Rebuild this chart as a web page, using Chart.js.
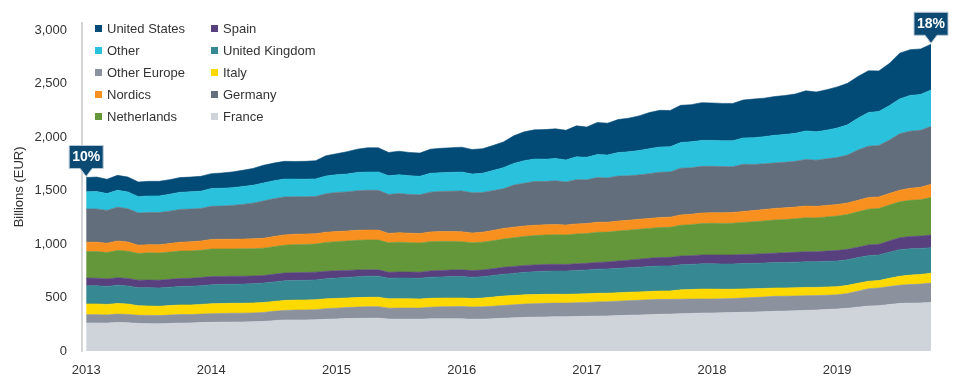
<!DOCTYPE html>
<html>
<head>
<meta charset="utf-8">
<script src="https://cdn.jsdelivr.net/npm/chart.js@4.4.1/dist/chart.umd.min.js"></script>
<style>
html,body{margin:0;padding:0;background:#fff;}
#wrap{position:relative;width:960px;height:381px;overflow:hidden;}
#legend{position:absolute;left:0;top:0;width:960px;height:0;font-family:"Liberation Sans",Arial,Helvetica,sans-serif;font-size:13px;color:#333;}
.item{position:absolute;white-space:nowrap;height:16px;line-height:16px;}
.sw{display:inline-block;width:7px;height:7px;margin-right:5px;vertical-align:middle;position:relative;top:-1px;}
</style>
</head>
<body>
<div id="wrap">
  <canvas id="c" width="960" height="381"></canvas>
  <div id="legend"></div>
</div>
<script>
// ---- categories: monthly, Jan 2013 to Oct 2019 ----
const startYear = 2013;
const monthCount = 82;
const months = [];
for (let i = 0; i < monthCount; i++) {
  months.push((startYear + Math.floor(i / 12)) + '-' + String(i % 12 + 1).padStart(2, '0'));
}
const xTickLabels = ['2013', '2014', '2015', '2016', '2017', '2018', '2019'];
const yTicks = [0, 500, 1000, 1500, 2000, 2500, 3000];
const calloutStart = '10%';
const calloutEnd = '18%';

// ---- series values (billions EUR) ----
const unitedStates = [134,136,133,140,139,137,137,136,137,138,138,139,140,143,147,152,158,165,166,166,165,167,170,190,196,209,218,227,226,218,220,218,217,226,228,230,233,229,230,234,240,258,270,273,277,277,278,290,283,300,298,309,315,324,338,343,340,348,347,353,350,349,350,355,362,360,363,365,368,375,373,378,385,388,390,390,379,395,428,428,425,428];
const other = [161,162,158,158,157,153,155,156,158,160,161,162,165,166,166,167,167,168,167,167,166,165,164,166,166,167,171,170,172,175,176,174,173,176,176,176,177,176,180,188,198,203,211,210,209,209,206,213,210,215,214,220,224,228,233,236,235,240,244,243,242,242,242,247,250,254,258,260,262,267,265,268,275,283,298,315,319,322,326,335,336,342];
const germany = [310,311,307,316,312,301,300,301,303,306,307,304,310,311,316,324,334,350,354,355,350,348,349,360,366,366,370,372,372,364,366,363,362,372,375,378,382,376,371,372,370,394,400,410,405,409,403,414,410,418,414,421,416,415,419,423,423,437,434,436,435,432,428,440,431,428,425,426,428,436,432,436,440,448,470,480,481,499,528,533,533,540];
const nordics = [88,88,87,88,86,78,77,78,80,83,85,87,90,90,91,91,92,93,95,96,97,97,96,95,95,94,94,93,93,88,89,89,89,91,92,92,93,92,93,96,100,99,97,96,95,95,93,94,93,94,93,93,93,93,93,94,94,97,97,99,99,100,101,103,105,107,109,109,109,110,108,108,108,108,108,109,108,108,109,114,116,124];
const netherlands = [248,249,247,256,254,250,255,254,255,257,256,255,258,257,256,256,255,255,258,261,262,263,264,270,272,274,277,279,279,276,278,275,273,274,272,268,263,260,260,262,264,268,272,275,276,277,276,279,279,281,279,280,280,280,279,281,282,288,290,294,295,295,296,300,303,306,310,312,314,317,317,319,322,326,331,335,335,335,335,338,340,351];
const spain = [72,71,70,69,70,70,71,72,73,74,75,76,77,76,75,74,73,71,72,73,74,73,72,70,68,66,63,60,59,55,56,56,57,59,60,61,62,62,63,64,65,65,64,63,63,62,61,62,62,64,66,69,72,75,78,79,80,81,82,83,84,84,85,85,86,87,88,90,92,94,94,96,98,97,97,100,100,106,112,115,116,118];
const unitedKingdom = [170,170,168,171,170,168,171,171,172,173,174,175,177,178,178,179,180,181,182,183,183,184,185,188,190,192,195,198,197,193,195,194,193,197,198,200,201,199,200,202,204,207,211,214,216,218,218,221,223,225,226,228,229,231,233,234,234,235,235,236,236,236,236,237,237,238,238,238,239,240,239,240,240,240,240,240,239,244,249,246,243,238];
const italy = [100,100,99,100,97,90,88,88,89,90,90,91,93,93,93,93,93,93,93,93,93,93,93,92,91,90,89,88,88,87,87,86,85,83,82,81,80,80,82,85,88,87,86,85,84,83,82,82,81,81,80,79,78,78,77,78,79,87,89,92,93,90,87,85,83,80,78,78,78,78,77,77,77,76,74,70,70,77,84,88,90,93];
const otherEurope = [77,77,76,79,78,76,77,77,78,80,78,79,81,81,82,82,83,84,87,90,92,93,95,99,101,103,106,108,108,102,104,104,104,109,111,113,115,114,115,117,120,122,125,126,127,128,128,129,130,132,133,135,137,138,140,140,138,136,135,132,130,131,132,134,136,138,140,139,138,137,135,134,132,138,150,162,165,168,170,174,176,181];
const france = [263,263,261,266,264,258,256,254,258,261,263,266,268,270,271,272,273,277,284,290,291,291,292,297,300,303,305,306,307,299,298,298,298,301,302,302,301,297,298,302,306,310,314,317,319,320,320,322,324,327,328,331,334,337,340,343,345,349,351,355,356,357,359,362,364,367,371,373,376,380,383,388,393,400,410,420,424,435,445,448,450,454];

// stacking order, bottom to top
const stackLabels = ['France','Other Europe','Italy','United Kingdom','Spain','Netherlands','Nordics','Germany','Other','United States'];
const stackValues = [france, otherEurope, italy, unitedKingdom, spain, netherlands, nordics, germany, other, unitedStates];
const stackColors = ['#cfd3da','#8b929e','#fdd900','#368892','#58407e','#64973a','#f7901e','#636e7c','#29c1db','#034b77'];

// legend layout (two columns)
const legendCol1 = ['United States','Other','Other Europe','Nordics','Netherlands'];
const legendCol2 = ['Spain','United Kingdom','Italy','Germany','France'];

const FONT = '"Liberation Sans", Arial, Helvetica, sans-serif';
const yearTickValues = months.map((m, i) => m.endsWith('-01') ? i : -1).filter(v => v >= 0);

const datasets = stackLabels.map((lab, k) => ({
  label: lab,
  data: stackValues[k].map((v, i) => ({x: i, y: v})),
  backgroundColor: stackColors[k],
  borderColor: stackColors[k],
  borderWidth: 0.6,
  pointRadius: 0,
  pointHoverRadius: 0,
  tension: 0,
  fill: k === 0 ? 'origin' : '-1'
}));

const totals = months.map((_, i) => stackValues.reduce((s, arr) => s + arr[i], 0));

function drawCallout(ctx, x, tipY, text) {
  const w = 34, h = 23, gap = 8;
  const bottom = tipY - gap;
  const top = bottom - h;
  ctx.save();
  ctx.beginPath();
  ctx.moveTo(x - w / 2, top);
  ctx.lineTo(x + w / 2, top);
  ctx.lineTo(x + w / 2, bottom);
  ctx.lineTo(x + 6, bottom);
  ctx.lineTo(x, tipY);
  ctx.lineTo(x - 6, bottom);
  ctx.lineTo(x - w / 2, bottom);
  ctx.closePath();
  ctx.fillStyle = '#0d4a73';
  ctx.fill();
  ctx.lineWidth = 1;
  ctx.strokeStyle = '#b9c8d6';
  ctx.stroke();
  ctx.fillStyle = '#ffffff';
  ctx.font = 'bold 14px ' + FONT;
  ctx.textAlign = 'center';
  ctx.textBaseline = 'middle';
  ctx.fillText(text, x, top + h / 2 + 0.5);
  ctx.restore();
}

const calloutPlugin = {
  id: 'callouts',
  afterDraw(chart) {
    const xs = chart.scales.x, ys = chart.scales.y, ctx = chart.ctx;
    const last = months.length - 1;
    drawCallout(ctx, xs.getPixelForValue(0), ys.getPixelForValue(totals[0]) - 1, calloutStart);
    drawCallout(ctx, xs.getPixelForValue(last), ys.getPixelForValue(totals[last]) - 1, calloutEnd);
  }
};

new Chart(document.getElementById('c'), {
  type: 'line',
  data: { datasets },
  options: {
    responsive: false,
    animation: false,
    devicePixelRatio: 1,
    layout: { padding: { top: 22, right: 29, bottom: 3, left: 0 } },
    plugins: { legend: { display: false }, tooltip: { enabled: false } },
    elements: { line: { borderJoinStyle: 'round' } },
    scales: {
      x: {
        type: 'linear',
        min: -0.4,
        max: months.length - 1,
        grid: { display: false, drawTicks: false },
        border: { display: false },
        afterBuildTicks: (s) => { s.ticks = yearTickValues.map(v => ({ value: v })); },
        afterFit: (s) => { s.height = 27; },
        ticks: {
          autoSkip: false, maxRotation: 0, padding: 12,
          color: '#333', font: { family: FONT, size: 13 },
          callback: (v) => xTickLabels[yearTickValues.indexOf(v)]
        }
      },
      y: {
        stacked: true,
        min: 0,
        max: 3070,
        grid: { display: false, drawTicks: false },
        border: { display: true, color: '#d5d5d5', width: 2 },
        afterBuildTicks: (s) => { s.ticks = yTicks.map(v => ({ value: v })); },
        afterFit: (s) => { s.width = 82; },
        title: {
          display: true, text: 'Billions (EUR)', color: '#333',
          font: { family: FONT, size: 13 }, padding: { top: 12, bottom: 0 }
        },
        ticks: {
          padding: 15, color: '#333', font: { family: FONT, size: 13 },
          callback: (v) => Number(v).toLocaleString('en-US')
        }
      }
    }
  },
  plugins: [calloutPlugin]
});

// HTML legend
const legendEl = document.getElementById('legend');
function addLegendColumn(names, left) {
  names.forEach((name, r) => {
    const k = stackLabels.indexOf(name);
    const div = document.createElement('div');
    div.className = 'item';
    div.style.left = left + 'px';
    div.style.top = (28.5 + 22 * r - 8) + 'px';
    const sw = document.createElement('span');
    sw.className = 'sw';
    sw.style.background = stackColors[k];
    div.appendChild(sw);
    div.appendChild(document.createTextNode(name));
    legendEl.appendChild(div);
  });
}
addLegendColumn(legendCol1, 95);
addLegendColumn(legendCol2, 211);
</script>
</body>
</html>
